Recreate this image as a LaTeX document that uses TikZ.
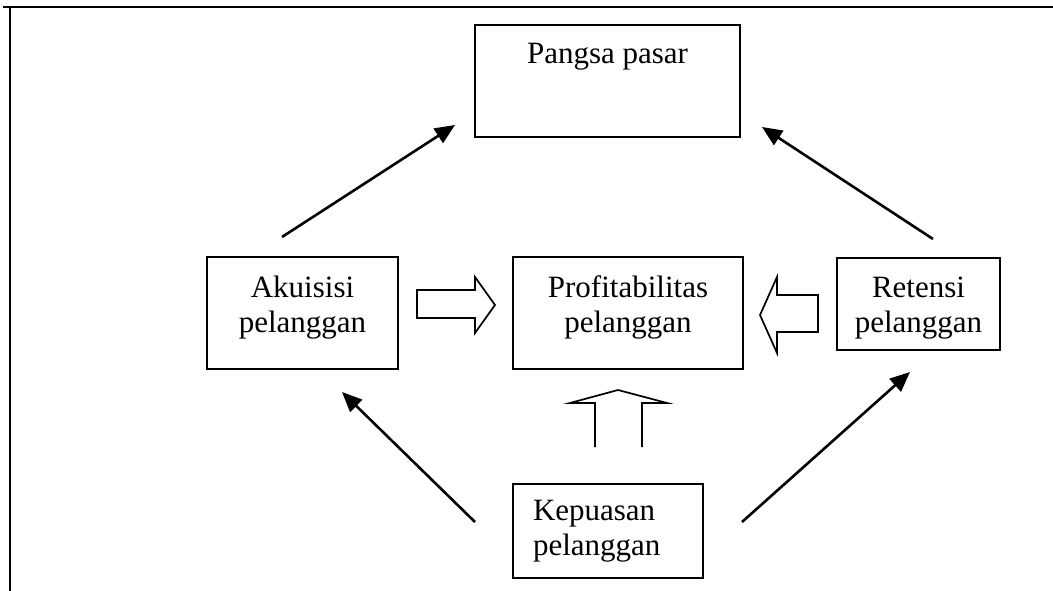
\documentclass[tikz,border=0pt]{standalone}
\usepackage{fontspec}
\setmainfont{Liberation Serif}
\usetikzlibrary{arrows.meta}
\begin{document}
\begin{tikzpicture}[x=1pt,y=-1pt,
  txt/.style={font=\fontsize{31}{35}\selectfont, align=center},
  box/.style={draw, line width=1.6pt, inner sep=0pt},
  link/.style={line width=2.6pt, -{Triangle[length=20pt,width=17pt]}},
  hollow/.style={draw, line width=1.7pt, line join=miter, fill=white}]
\useasboundingbox (0,0) rectangle (1053,591);

% page frame (top and left rules)
\draw[line width=1.5pt] (3,7) -- (1053,7);
\draw[line width=1.5pt] (10,7) -- (10,591);

% boxes, each with its caption set slightly off centre
\node[box, minimum width=265pt, minimum height=112pt,
  label={[txt, yshift=24pt]center:Pangsa pasar}] (pasar) at (607.5,81) {};
\node[box, minimum width=191pt, minimum height=112pt,
  label={[txt, yshift=5pt]center:Akuisisi\\pelanggan}] (akuisisi) at (302.5,313) {};
\node[box, minimum width=230pt, minimum height=112pt,
  label={[txt, yshift=6pt]center:Profitabilitas\\pelanggan}] (profit) at (628,313) {};
\node[box, minimum width=163pt, minimum height=92pt,
  label={[txt, yshift=-4pt]center:Retensi\\pelanggan}] (retensi) at (918.5,304) {};
\node[box, minimum width=190pt, minimum height=94pt,
  label={[txt, text width=150pt, align=left]center:Kepuasan\\pelanggan}]
  (kepuasan) at (608,531) {};

% ends of the diagonal links
\coordinate (akTop)  at (282,237);
\coordinate (pasL)   at (455,125);
\coordinate (reTop)  at (933,239);
\coordinate (pasR)   at (762,127);
\coordinate (kpL)    at (475,522);
\coordinate (akBot)  at (342,392);
\coordinate (kpR)    at (742,522);
\coordinate (reBot)  at (910,372);

\draw[link] (akTop) -- (pasL);
\draw[link] (reTop) -- (pasR);
\draw[link] (kpL) -- (akBot);
\draw[link] (kpR) -- (reBot);

% hollow block arrows into the profitability box
\draw[hollow] (417,290) -- (475,290) -- (475,277) -- (495,305)
  -- (475,333) -- (475,318) -- (417,318) -- cycle;
\draw[hollow] (818,295) -- (777,295) -- (777,277) -- (760,315)
  -- (777,353) -- (777,332) -- (818,332) -- cycle;
\draw[hollow] (595,447) -- (595,403) -- (570,403) -- (618,390)
  -- (667,403) -- (642,403) -- (642,447);
\end{tikzpicture}
\end{document}
